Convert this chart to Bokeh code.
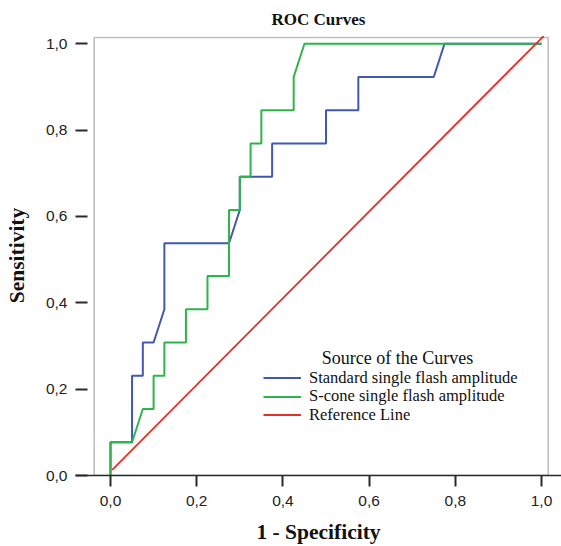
from bokeh.plotting import figure
from bokeh.models import FixedTicker, Legend, LegendItem, Label, BoxAnnotation, Range1d
from bokeh.embed import file_html
from bokeh.resources import INLINE

# ---------------- data ----------------
title_text = "ROC Curves"
x_title = "1 - Specificity"
y_title = "Sensitivity"
legend_title = "Source of the Curves"
tick_values = [0.0, 0.2, 0.4, 0.6, 0.8, 1.0]
tick_labels = ["0,0", "0,2", "0,4", "0,6", "0,8", "1,0"]
series_names = ["Standard single flash amplitude",
                "S-cone single flash amplitude",
                "Reference Line"]

standard_fpr = [0.0, 0.0, 0.05, 0.05, 0.075, 0.075, 0.1, 0.125, 0.125, 0.275, 0.3,
                0.3, 0.375, 0.375, 0.5, 0.5, 0.575, 0.575, 0.75, 0.775, 1.0]
standard_tpr = [0.0, 0.077, 0.077, 0.231, 0.231, 0.308, 0.308, 0.385, 0.538, 0.538, 0.615,
                0.692, 0.692, 0.769, 0.769, 0.846, 0.846, 0.923, 0.923, 1.0, 1.0]

scone_fpr = [0.0, 0.0, 0.05, 0.075, 0.1, 0.1, 0.125, 0.125, 0.175, 0.175, 0.225, 0.225,
             0.275, 0.275, 0.3, 0.3, 0.325, 0.325, 0.35, 0.35, 0.425, 0.425, 0.45, 1.0]
scone_tpr = [0.0, 0.077, 0.077, 0.154, 0.154, 0.231, 0.231, 0.308, 0.308, 0.385, 0.385, 0.462,
             0.462, 0.615, 0.615, 0.692, 0.692, 0.769, 0.769, 0.846, 0.846, 0.923, 1.0, 1.0]

ref_fpr = [0.004, 1.005]
ref_tpr = [0.013, 1.018]

# ---------------- styles ----------------
BLUE = "#4058b2"
GREEN = "#2db54a"
RED = "#e2312a"
DARK = "#2a2a2a"
SERIF = "Liberation Serif"
SANS = "Liberation Sans"

p = figure(width=561, height=546, output_backend="svg", toolbar_location=None,
           x_range=Range1d(-0.0812, 1.0464), y_range=Range1d(0.0, 1.0192),
           min_border_left=75, min_border_right=0, min_border_top=35, min_border_bottom=71)

p.outline_line_color = None
p.xgrid.visible = False
p.ygrid.visible = False
p.background_fill_color = "white"
p.border_fill_color = "white"

p.title.text = title_text
p.title.align = "center"
p.title.offset = -4
p.title.standoff = 14
p.title.text_font = SERIF
p.title.text_font_style = "bold"
p.title.text_font_size = "17px"
p.title.text_color = "#111111"

# frame box
p.add_layout(BoxAnnotation(left=-0.0378, right=1.0155, bottom=0.0, top=1.0146,
                           fill_alpha=0, line_color=DARK, line_width=1.6))

r_std = p.line(standard_fpr, standard_tpr, line_color=BLUE, line_width=2)
r_sc = p.line(scone_fpr, scone_tpr, line_color=GREEN, line_width=2)
r_ref = p.line(ref_fpr, ref_tpr, line_color=RED, line_width=1.8)

overrides = {v: t for v, t in zip(tick_values, tick_labels)}

xa = p.xaxis[0]
xa.ticker = FixedTicker(ticks=tick_values, minor_ticks=[])
xa.major_label_overrides = overrides
xa.major_tick_in = 0
xa.major_tick_out = 11
xa.major_tick_line_width = 2
xa.major_tick_line_color = DARK
xa.axis_line_color = DARK
xa.axis_line_width = 1.6
xa.minor_tick_line_color = None
xa.major_label_text_font = SANS
xa.major_label_text_font_size = "15.5px"
xa.major_label_text_color = "#222222"
xa.major_label_standoff = 9
xa.axis_label = x_title
xa.axis_label_text_font = SERIF
xa.axis_label_text_font_style = "bold"
xa.axis_label_text_font_size = "21.5px"
xa.axis_label_text_color = "#111111"
xa.axis_label_standoff = 11

ya = p.yaxis[0]
ya.ticker = FixedTicker(ticks=tick_values, minor_ticks=[])
ya.major_label_overrides = overrides
ya.major_tick_in = 12
ya.major_tick_out = 0
ya.major_tick_line_width = 2
ya.major_tick_line_color = DARK
ya.axis_line_color = None
ya.minor_tick_line_color = None
ya.major_label_text_font = SANS
ya.major_label_text_font_size = "15.5px"
ya.major_label_text_color = "#222222"
ya.major_label_standoff = 8
ya.axis_label = y_title
ya.axis_label_text_font = SERIF
ya.axis_label_text_font_style = "bold"
ya.axis_label_text_font_size = "21.5px"
ya.axis_label_text_color = "#111111"
ya.axis_label_standoff = 14

renderers = [r_std, r_sc, r_ref]
row_y = [87, 68.5, 50]
for name, rend, ly in zip(series_names, renderers, row_y):
    lg = Legend(items=[LegendItem(label=name, renderers=[rend])],
                location=(188, ly), glyph_width=38, glyph_height=21, label_height=21,
                label_standoff=8, spacing=0, padding=0, margin=0,
                border_line_color=None, background_fill_alpha=0,
                label_text_font=SERIF, label_text_font_size="16.5px",
                label_text_color="#111111")
    p.add_layout(lg)

p.add_layout(Label(x=322, y=118, x_units="screen", y_units="screen", text=legend_title,
                   text_align="center", text_baseline="alphabetic",
                   text_font=SERIF, text_font_size="18px", text_color="#111111"))

open("out.html", "w").write(file_html(p, INLINE))
